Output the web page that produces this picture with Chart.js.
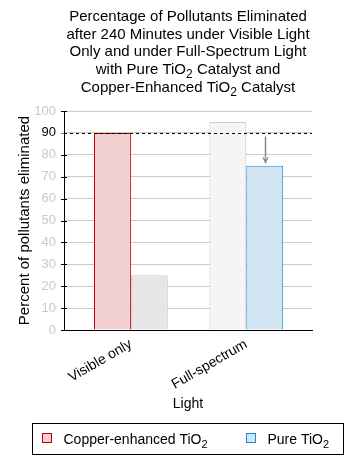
<!DOCTYPE html>
<html><head><meta charset="utf-8">
<script src="https://cdn.jsdelivr.net/npm/chart.js@4.4.1/dist/chart.umd.min.js"></script>
<style>html,body{margin:0;padding:0;background:#fff}#wrap{width:354px;height:464px;position:relative}</style>
</head><body><div id="wrap"><canvas id="c"></canvas></div>
<script>
const titleLines = ['Percentage of Pollutants Eliminated', 'after 240 Minutes under Visible Light', 'Only and under Full-Spectrum Light', 'with Pure TiO₂ Catalyst and', 'Copper-Enhanced TiO₂ Catalyst'];
const categories = ['Visible only', 'Full-spectrum'];
const seriesNames = ['Copper-enhanced TiO₂', 'Pure TiO₂'];
const copperValues = [90, 95];
const pureValues = [25, 75];
const yTickValues = [0, 10, 20, 30, 40, 50, 60, 70, 80, 90, 100];
const referenceValue = 90;
const xTitle = 'Light';
const yTitle = 'Percent of pollutants eliminated';

const FONT = "'Liberation Sans', Arial, sans-serif";
const copperFill = ['#f2d0d1', '#f5f5f6'];
const copperBorder = ['#c00000', '#cccccc'];
const pureFill = ['#e6e6e6', '#d1e6f2'];
const pureBorder = ['#c8c8c8', '#1a8ccf'];

function drawRich(ctx, text, x, y, align, size) {
  const parts = text.split('₂');
  const subSize = Math.round(size * 0.8);
  const main = size + 'px ' + FONT, sub = subSize + 'px ' + FONT;
  let total = 0;
  parts.forEach((p, i) => {
    ctx.font = main; total += ctx.measureText(p).width;
    if (i < parts.length - 1) { ctx.font = sub; total += ctx.measureText('2').width; }
  });
  let cx = align === 'center' ? x - total / 2 : x;
  ctx.textAlign = 'left'; ctx.textBaseline = 'alphabetic';
  parts.forEach((p, i) => {
    ctx.font = main; ctx.fillText(p, cx, y); cx += ctx.measureText(p).width;
    if (i < parts.length - 1) { ctx.font = sub; ctx.fillText('2', cx, y + 4); cx += ctx.measureText('2').width; }
  });
}

const deco = {
  id: 'deco',
  afterDatasetsDraw(chart) {
    const {ctx, chartArea: a, scales: {y}} = chart;
    ctx.save();
    const yy = Math.round(y.getPixelForValue(referenceValue)) + 0.5;
    ctx.strokeStyle = '#000'; ctx.lineWidth = 1; ctx.setLineDash([3, 3]);
    ctx.beginPath(); ctx.moveTo(a.left, yy); ctx.lineTo(a.right, yy); ctx.stroke();
    ctx.setLineDash([]);
    const bar = chart.getDatasetMeta(1).data[1];
    const ax = Math.round(bar.x) + 0.5, y1 = yy + 3, y2 = bar.y - 1.5;
    ctx.strokeStyle = '#888'; ctx.fillStyle = '#888'; ctx.lineWidth = 1.5;
    ctx.beginPath(); ctx.moveTo(ax, y1); ctx.lineTo(ax, y2 - 6); ctx.stroke();
    ctx.beginPath(); ctx.moveTo(ax - 3.5, y2 - 8); ctx.lineTo(ax, y2 - 5); ctx.lineTo(ax + 3.5, y2 - 8); ctx.lineTo(ax, y2); ctx.closePath(); ctx.fill();
    ctx.restore();
  },
  afterDraw(chart) {
    const {ctx, chartArea: a, scales: {y}} = chart;
    ctx.save();
    yTickValues.forEach(v => {
      const py = Math.round(y.getPixelForValue(v)) + 0.5;
      ctx.strokeStyle = v === referenceValue ? '#2a8fcf' : '#000';
      ctx.lineWidth = 1;
      ctx.beginPath(); ctx.moveTo(a.left - 3, py); ctx.lineTo(a.left + (v === referenceValue ? 0 : 3), py); ctx.stroke();
    });
    ctx.fillStyle = '#000';
    const cx = (a.left + a.right) / 2;
    titleLines.forEach((t, i) => drawRich(ctx, t, cx, 20.7 + i * 17.8, 'center', 15));
    ctx.strokeStyle = '#000'; ctx.lineWidth = 1;
    ctx.strokeRect(32.5, 423.5, 311, 31);
    const items = [
      {x: 42.5, fill: copperFill[0], border: copperBorder[0], label: seriesNames[0]},
      {x: 246.5, fill: pureFill[1], border: pureBorder[1], label: seriesNames[1]}
    ];
    items.forEach(it => {
      ctx.fillStyle = it.fill; ctx.fillRect(it.x, 433.5, 9, 9);
      ctx.strokeStyle = it.border; ctx.strokeRect(it.x, 433.5, 9, 9);
      ctx.fillStyle = '#000';
      drawRich(ctx, it.label, it.x + 21, 444, 'left', 14);
    });
    ctx.restore();
  }
};

Chart.defaults.font.family = FONT;
Chart.defaults.font.size = 13;
Chart.defaults.color = '#000';

new Chart(document.getElementById('c'), {
  type: 'bar',
  data: {
    datasets: [
      {label: seriesNames[0], data: copperValues.map((v, i) => ({x: i, y: v})), backgroundColor: copperFill, borderColor: copperBorder, borderWidth: 1},
      {label: seriesNames[1], data: pureValues.map((v, i) => ({x: i, y: v})), backgroundColor: pureFill, borderColor: pureBorder, borderWidth: 1}
    ]
  },
  options: {
    responsive: true, maintainAspectRatio: false, animation: false,
    layout: {padding: {top: 111, right: 42, bottom: 49, left: 0}},
    plugins: {legend: {display: false}, tooltip: {enabled: false}, title: {display: false}},
    datasets: {bar: {categoryPercentage: 0.64, barPercentage: 1.0}},
    scales: {
      x: {
        type: 'linear', min: -0.58, max: 1.57, offset: false, bounds: 'data',
        afterBuildTicks: s => { s.ticks = categories.map((c, i) => ({value: i})); },
        afterFit: s => { s.height = 85; },
        grid: {display: false, drawTicks: false, offset: false},
        border: {display: true, color: '#000', width: 1},
        ticks: {minRotation: 30, maxRotation: 30, padding: 6, autoSkip: false, color: '#000', font: {size: 14},
          callback: (v) => categories[v] !== undefined ? categories[v] : ''},
        title: {display: true, text: xTitle, font: {size: 14}, padding: {top: 0, bottom: 2}, color: '#000'}
      },
      y: {
        min: 0, max: 100,
        afterBuildTicks: s => { s.ticks = yTickValues.map(v => ({value: v})); },
        afterFit: s => { s.width = 64; },
        grid: {color: '#cccccc', drawTicks: false},
        border: {display: true, color: '#000', width: 1},
        ticks: {padding: 8, font: {size: 13}, color: ctx => ctx.tick && ctx.tick.value === referenceValue ? '#000' : '#c8c8c8'},
        title: {display: true, text: yTitle, font: {size: 15}, padding: {top: 16, bottom: 0}, color: '#000'}
      }
    }
  },
  plugins: [deco]
});
</script></body></html>
